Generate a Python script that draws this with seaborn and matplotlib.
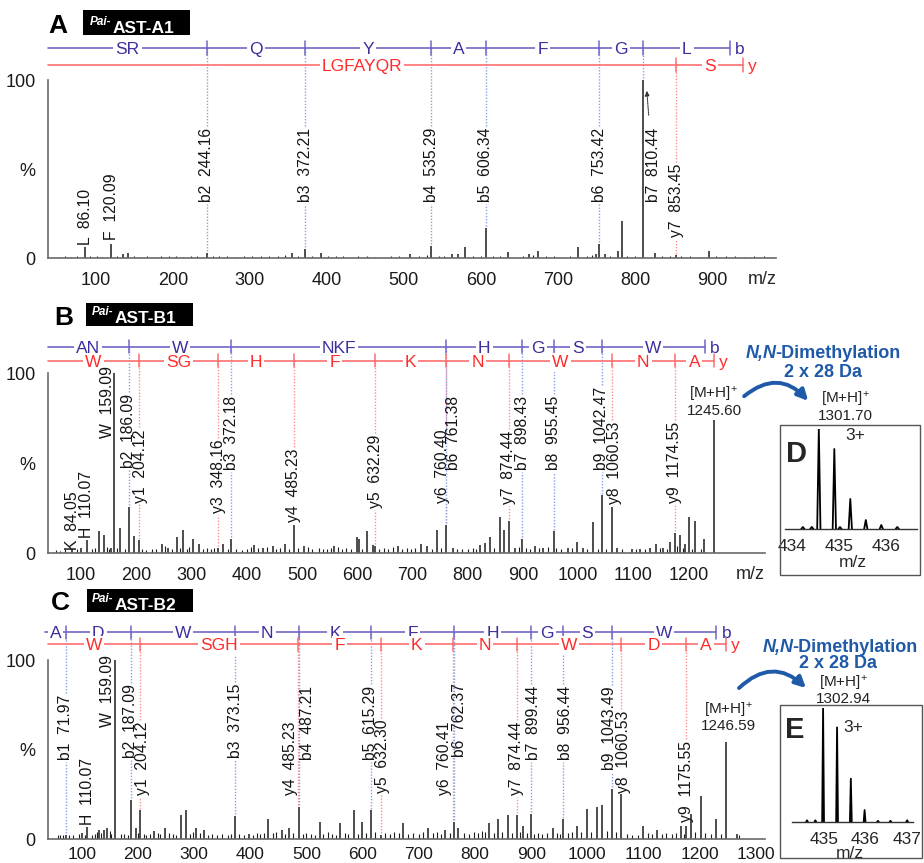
import matplotlib
matplotlib.use("Agg")
import matplotlib.pyplot as plt
import seaborn as sns
import pandas as pd
from matplotlib.patches import Rectangle, FancyArrowPatch
from matplotlib.ticker import MultipleLocator

# ======================= DATA =======================
# ---- Panel A  (Pai-AST-A1) ----
A_peaks = [(86.10, 6), (120.09, 8), (136, 2), (142, 3), (244.16, 3), (355, 3), (372.21, 5), (392, 3),
           (508, 2), (535.29, 7), (562, 2), (570, 2), (579, 6), (606.34, 17), (635, 3.5), (663, 2),
           (674, 4), (726, 6), (749, 2), (753.42, 8), (761, 2), (778, 4), (783, 21), (810.44, 100),
           (826, 3), (853.45, 1.5), (896, 4)]
A_noise = [(52, .8), (60, 1.0), (68, .7), (75, 1.2), (93, .9), (101, 1.3), (108, .8), (128, 1.1), (150, 1.0),
           (158, .7), (167, 1.2), (176, .8), (185, 1.0), (195, .9), (204, 1.1), (213, .7), (224, 1.0),
           (232, 1.4), (252, 1.2), (260, 1.0), (270, 1.3), (281, .8), (292, 1.1), (303, 1.2), (314, .9),
           (325, 1.3), (336, 1.0), (346, 1.6), (362, 1.2), (381, 1.1), (401, 1.4), (412, 1.0), (421, 1.2),
           (440, .9), (452, 1.1), (462, .8), (483, 1.2), (494, 1.0), (520, 1.3), (530, 1.5), (545, 1.1),
           (552, 1.3), (590, 1.0), (600, 1.2), (615, 1.1), (625, 1.4), (655, 1.2), (668, 1.5), (685, 1.0),
           (695, 1.2), (716, 1.1), (738, 1.3), (744, 1.6), (768, 1.4), (790, 1.0), (800, 1.2), (835, 1.0),
           (845, 1.2), (860, .9), (872, 1.1), (883, .8), (905, 1.0), (918, .9), (930, 1.1), (942, .8),
           (955, 1.0), (968, .9), (978, .8)]
A_ann_mz = [86.10, 120.09, 244.16, 372.21, 535.29, 606.34, 753.42, 810.44, 853.45]
A_ann_ion = ['L', 'F', 'b2', 'b3', 'b4', 'b5', 'b6', 'b7', 'y7']
A_b_frag = [244.16, 372.21, 535.29, 606.34, 753.42, 810.44]
A_b_end = 923.5
A_b_res = ['SR', 'Q', 'Y', 'A', 'F', 'G', 'L']
A_y_frag = [853.45]
A_y_end = 940.5
A_y_res = ['LGFAYQR', 'S']

# ---- Panel B  (Pai-AST-B1) ----
B_peaks = [(84.05, 2), (99, 3), (110.07, 7), (132, 12), (141, 10), (154, 3), (159.09, 100), (171, 14),
           (186.09, 25.5), (195, 9.5), (204.12, 7), (246, 5), (257, 3), (273, 9), (284, 13), (302, 8),
           (313, 5), (348.16, 3), (357, 5), (372.18, 8), (413, 4.5), (429, 3), (447, 4), (469, 5),
           (485.23, 15.5), (503, 4), (558, 4), (599, 9), (603, 8), (617, 12), (628, 4.5), (632.29, 4),
           (673, 4), (715, 5), (726, 4), (744, 13), (760.40, 15.5), (773, 3), (822, 4.5), (831, 5.5),
           (840, 9), (858, 20), (866, 13), (874.44, 18), (885, 3), (898.43, 8), (921, 4), (936, 3),
           (955.45, 12), (981, 3), (998, 6), (1009, 3), (1027, 17), (1042.47, 32), (1060.53, 25.5),
           (1070, 3), (1097, 2.5), (1112, 2), (1130, 3), (1141, 5), (1153, 3), (1166, 6), (1174.55, 11),
           (1184, 10), (1193, 5), (1200, 20), (1211, 18), (1228, 8), (1245.60, 74)]
B_noise = [(55, 1.5), (62, 1.0), (70, 2.0), (92, 2.5), (120, 2.0), (125, 3.0), (146, 3.5), (150, 2.5),
           (165, 3.0), (180, 2.0), (210, 2.0), (218, 1.5), (228, 2.0), (236, 2.5), (252, 4.0), (265, 2.5),
           (279, 3.0), (292, 2.0), (296, 3.5), (320, 2.5), (328, 3.0), (335, 2.0), (340, 3.0), (365, 2.0),
           (380, 2.5), (392, 1.5), (400, 2.5), (408, 3.5), (420, 3.0), (436, 3.5), (452, 2.5), (460, 3.0),
           (476, 2.0), (492, 3.0), (510, 3.5), (518, 2.5), (530, 3.0), (538, 2.0), (545, 2.5), (552, 3.0),
           (565, 3.5), (572, 2.5), (580, 3.0), (588, 2.5), (608, 2.0), (640, 2.5), (648, 3.0), (656, 2.0),
           (665, 3.5), (680, 2.5), (690, 3.0), (698, 2.5), (705, 3.0), (735, 2.5), (752, 3.0), (780, 2.5),
           (790, 2.0), (800, 2.5), (810, 3.0), (815, 2.5), (848, 3.0), (892, 3.5), (905, 3.0), (912, 2.5),
           (928, 3.0), (945, 3.5), (960, 3.0), (968, 2.5), (988, 3.0), (1015, 2.5), (1035, 2.0),
           (1050, 2.5), (1080, 2.0), (1105, 2.0), (1120, 2.5), (1148, 3.0), (1160, 2.5), (1178, 4.0),
           (1190, 3.0), (1205, 2.5), (1222, 2.0)]
B_ann_mz = [84.05, 110.07, 159.09, 186.09, 204.12, 348.16, 372.18, 485.23, 632.29, 760.40, 761.38,
            874.44, 898.43, 955.45, 1042.47, 1060.53, 1174.55]
B_ann_ion = ['K', 'H', 'W', 'b2', 'y1', 'y3', 'b3', 'y4', 'y5', 'y6', 'b6', 'y7', 'b7', 'b8', 'b9', 'y8', 'y9']
B_b_frag = [186.09, 372.18, 761.38, 898.43, 955.45, 1042.47]
B_b_end = 1228.55
B_b_res = ['AN', 'W', 'NKF', 'H', 'G', 'S', 'W']
B_y_frag = [204.12, 348.16, 485.23, 632.29, 760.40, 874.44, 1060.53, 1174.55]
B_y_end = 1245.60
B_y_res = ['W', 'SG', 'H', 'F', 'K', 'N', 'W', 'N', 'A']
B_precursor = 1245.60
B_dimethyl = 1301.70

# ---- Panel C  (Pai-AST-B2) ----
C_peaks = [(71.97, 2.5), (100, 3.5), (110.07, 6.7), (131, 5), (140, 5), (145, 6), (159.09, 100),
           (187.09, 22), (196, 6), (204.12, 16), (229, 4.5), (248, 6), (276, 13.5), (285, 16), (303, 6),
           (318, 5), (373.15, 13), (398, 3), (431, 11), (456, 5), (469, 6), (487.21, 18), (524, 9.5),
           (560, 9), (584, 16), (599, 9.5), (615.29, 16), (632.30, 2.5), (672, 9), (717, 6), (746, 5),
           (762.37, 9.5), (770, 6), (825, 9), (841, 11), (858, 13.5), (874.44, 13.5), (886, 7),
           (899.44, 14), (939, 6), (956.44, 11), (981, 7), (999, 16.5), (1017, 18), (1026, 19),
           (1043.49, 28), (1060.53, 25), (1099, 7), (1124, 5), (1167, 7.5), (1175.55, 7.5), (1184, 14),
           (1202, 24), (1229, 11), (1246.59, 54), (1266, 3)]
C_noise = [(58, 2), (62, 2.5), (66, 2), (78, 2.5), (85, 2), (95, 3), (106, 2.5), (118, 2.5), (124, 3),
           (128, 4), (135, 3.5), (150, 4.5), (152, 3), (170, 3), (176, 3), (182, 2.5), (200, 3.5),
           (210, 3), (215, 2.5), (222, 3), (235, 3.5), (240, 3), (255, 3.5), (262, 3), (268, 2.5),
           (292, 3), (298, 4), (310, 3.5), (325, 2.5), (332, 3), (340, 2.5), (350, 3), (360, 2.5),
           (366, 3), (380, 3), (388, 2.5), (405, 2.5), (412, 3.5), (418, 3), (425, 3.5), (440, 3.5),
           (446, 4), (462, 3), (476, 3.5), (494, 3), (500, 3.5), (508, 3), (516, 2.5), (530, 3),
           (538, 4), (545, 3), (552, 2.5), (568, 3.5), (574, 3), (592, 3), (606, 3.5), (622, 4),
           (640, 3.5), (648, 3), (656, 4), (664, 3.5), (680, 3), (690, 3.5), (700, 3), (708, 4),
           (725, 3.5), (732, 4), (740, 3), (755, 3.5), (780, 3.5), (790, 3), (798, 4), (806, 3.5),
           (812, 4.5), (818, 4), (834, 3.5), (848, 4), (866, 3.5), (880, 4), (892, 3.5), (905, 3),
           (912, 3.5), (920, 3), (928, 3.5), (946, 3.5), (952, 3), (966, 3.5), (972, 4), (988, 4),
           (1006, 4), (1035, 4.5), (1050, 4), (1070, 3), (1080, 2.5), (1090, 2), (1108, 3.5), (1115, 3),
           (1132, 3), (1140, 3.5), (1150, 3), (1158, 3.5), (1172, 3), (1192, 4), (1210, 3.5), (1220, 3),
           (1238, 3), (1270, 2.5)]
C_ann_mz = [71.97, 110.07, 159.09, 187.09, 204.12, 373.15, 485.23, 487.21, 615.29, 632.30, 760.41,
            762.37, 874.44, 899.44, 956.44, 1043.49, 1060.53, 1175.55]
C_ann_ion = ['b1', 'H', 'W', 'b2', 'y1', 'b3', 'y4', 'b4', 'b5', 'y5', 'y6', 'b6', 'y7', 'b7', 'b8',
             'b9', 'y8', 'y9']
C_b_frag = [71.97, 187.09, 373.15, 487.21, 615.29, 762.37, 899.44, 956.44, 1043.49]
C_b_end = 1229.57
C_b_res = ['A', 'D', 'W', 'N', 'K', 'F', 'H', 'G', 'S', 'W']
C_y_frag = [204.12, 485.23, 632.30, 760.41, 874.44, 1060.53, 1175.55]
C_y_end = 1246.59
C_y_res = ['W', 'SGH', 'F', 'K', 'N', 'W', 'D', 'A']
C_precursor = 1246.59
C_dimethyl = 1302.94

# ---- Insets: 3+ isotope clusters ----
D_iso_mz = [434.23, 434.42, 434.57, 434.90, 435.02, 435.24, 435.57, 435.90, 436.24]
D_iso_int = [2, 2, 100, 80, 2, 30, 9, 4, 2]
D_ticks = [434, 435, 436]
E_iso_mz = [434.60, 434.80, 434.985, 435.32, 435.65, 435.98, 436.30, 436.60, 437.00]
E_iso_int = [1.5, 1.5, 100, 83, 38, 10.5, 1, 1, 1.5]
E_ticks = [435, 436, 437]

# ======================= LAYOUT / STYLE =======================
sns.set_theme(style="white")
plt.rcParams['font.family'] = ['Liberation Sans', 'DejaVu Sans']
plt.rcParams['mathtext.default'] = 'regular'

W, H = 924, 863
fig = plt.figure(figsize=(W / 100, H / 100), dpi=100)
fig.patch.set_facecolor('white')

BLUE_T, BLUE_L, BLUE_D = '#3a2f9c', '#6f67c6', '#86a2e2'
RED_T, RED_L, RED_D = '#ff2b2b', '#ff6e6e', '#ff8f8f'
PEAK, AXC, NAVY = '#1c1c1c', '#6a6a6a', '#1f5aa8'


def fx(x):
    return x / W


def fy(y):
    return 1 - y / H


def make_axes(left, right, top, bottom):
    return fig.add_axes([fx(left), fy(bottom), (right - left) / W, (bottom - top) / H])


def style_axis(ax, xlim, xticks, minor, xpad, xsize):
    ax.set_xlim(*xlim)
    ax.set_ylim(0, 100)
    ax.set_xticks(xticks)
    ax.xaxis.set_minor_locator(MultipleLocator(minor))
    ax.set_yticks([0, 50, 100])
    ax.set_yticklabels(['0', '%', '100'])
    ax.yaxis.set_minor_locator(MultipleLocator(10))
    for s in ['top', 'right']:
        ax.spines[s].set_visible(False)
    for s in ['left', 'bottom']:
        ax.spines[s].set_color(AXC)
        ax.spines[s].set_linewidth(1.2)
    ax.tick_params(which='major', direction='out', length=5, width=1, color=AXC,
                   labelsize=13, labelcolor='#1a1a1a', pad=4)
    ax.tick_params(axis='x', which='major', pad=xpad, labelsize=xsize)
    ax.tick_params(which='minor', direction='out', length=3, width=0.8, color=AXC)
    ax.patch.set_alpha(0)
    ax.grid(False)


def draw_ladder(ax, start, frags, end, residues, lev, tick_h, ct, cl, tag, tag_dx):
    pos = [start] + list(frags) + [end]
    ax.plot([start, end], [lev, lev], color=cl, lw=1.2, clip_on=False, zorder=3)
    for p in list(frags) + [end]:
        ax.plot([p, p], [lev - tick_h, lev + tick_h], color=cl, lw=1.1, clip_on=False, zorder=3)
    for a, b, r in zip(pos[:-1], pos[1:], residues):
        ax.text((a + b) / 2, lev, r, color=ct, ha='center', va='center_baseline', fontsize=12.5,
                bbox=dict(boxstyle='square,pad=0.12', fc='white', ec='none'), zorder=4, clip_on=False)
    ax.text(end + tag_dx, lev, tag, color=ct, ha='left', va='center_baseline', fontsize=12.5,
            zorder=4, clip_on=False)


def draw_panel(cfg, peaks, noise, ann_mz, ann_ion, lab_bottom, lab_dx,
               b_frag, b_end, b_res, y_frag, y_end, y_res):
    ax = make_axes(*cfg['rect'])
    style_axis(ax, cfg['xlim'], cfg['xticks'], cfg['minor'], cfg['xpad'], cfg['xsize'])
    ppp = (cfg['rect'][3] - cfg['rect'][2]) / 100.0   # pixels per %
    xpp = (cfg['rect'][1] - cfg['rect'][0]) / (cfg['xlim'][1] - cfg['xlim'][0])  # px per m/z
    nz_mz, nz_int = zip(*noise)
    ax.vlines(nz_mz, 0, nz_int, color=PEAK, lw=0.8, zorder=2)
    pk_mz, pk_int = zip(*peaks)
    ax.vlines(pk_mz, 0, pk_int, color=PEAK, lw=1.1, zorder=2)

    b_lev = (cfg['rect'][3] - cfg['b_px']) / ppp
    y_lev = (cfg['rect'][3] - cfg['y_px']) / ppp
    tick_h = 6.5 / ppp
    start = cfg['start']
    draw_ladder(ax, start, b_frag, b_end, b_res, b_lev, tick_h, BLUE_T, BLUE_L, 'b', 5 / xpp)
    draw_ladder(ax, cfg['xlim'][0], y_frag, y_end, y_res, y_lev, tick_h, RED_T, RED_L, 'y', 5 / xpp)

    texts = []
    for mz, ion, bot, dx in zip(ann_mz, ann_ion, lab_bottom, lab_dx):
        t = ax.text(mz + dx / xpp, bot, f"{ion}  {mz:.2f}", rotation=90, ha='center', va='bottom',
                    fontsize=11.3, color='#141414', zorder=5, clip_on=False)
        texts.append((t, mz, ion, dx))
    return ax, texts, b_lev, y_lev, peaks


def connect(ax, texts, b_lev, y_lev, peaks, renderer):
    inv = ax.transData.inverted()
    g = 1.0
    for t, mz, ion, dx in texts:
        kind = ion[0] if (ion[0] in 'by' and ion[1:].isdigit()) else None
        if kind is None:
            continue
        lev = b_lev if kind == 'b' else y_lev
        col = BLUE_D if kind == 'b' else RED_D
        near = [p for p in peaks if abs(p[0] - mz) < 2.5]
        top_pk = max(p[1] for p in near) if near else 1.5
        bb = t.get_window_extent(renderer)
        (_, yb), (_, yt) = inv.transform([(bb.x0, bb.y0), (bb.x1, bb.y1)])
        if abs(dx) < 4:
            segs = [(yt + g, lev), (top_pk + g, yb - g)]
        else:
            segs = [(top_pk + g, lev)]
        for y0, y1 in segs:
            if y1 > y0:
                ax.plot([mz, mz], [y0, y1], color=col, lw=1.0, ls=(0, (1, 1.2)), zorder=1, clip_on=False)


def title_box(letter, x_letter, base_letter, box, pai_xy, ast_xy, name):
    fig.text(fx(x_letter), fy(base_letter), letter, fontsize=19, fontweight='bold', ha='center',
             va='baseline', color='black')
    l, t, r, b = box
    fig.patches.append(Rectangle((fx(l), fy(b)), (r - l) / W, (b - t) / H, transform=fig.transFigure,
                                 fc='black', ec='none'))
    fig.text(fx(pai_xy[0]), fy(pai_xy[1]), 'Pai-', fontsize=8.5, fontweight='bold', fontstyle='italic',
             color='white', ha='left', va='baseline')
    fig.text(fx(ast_xy[0]), fy(ast_xy[1]), name, fontsize=12.5, fontweight='bold', color='white',
             ha='left', va='baseline')


def dimethyl_block(host_ax, left_x, base1, center2, base2, arrow_a, arrow_b, mh_x, mh_y1, mh_y2, value):
    t1 = fig.text(fx(left_x), fy(base1), 'N,N', fontsize=13, fontweight='bold', fontstyle='italic',
                  color=NAVY, ha='left', va='baseline')
    host_ax.annotate('-Dimethylation', xy=(1, 0), xycoords=t1, xytext=(-1.5, 0),
                     textcoords='offset points', fontsize=13, fontweight='bold', color=NAVY,
                     ha='left', va='bottom', annotation_clip=False)
    fig.text(fx(center2), fy(base2), '2 x 28 Da', fontsize=13, fontweight='bold', color=NAVY,
             ha='center', va='baseline')
    arr = FancyArrowPatch((fx(arrow_a[0]), fy(arrow_a[1])), (fx(arrow_b[0]), fy(arrow_b[1])),
                          transform=fig.transFigure, connectionstyle='arc3,rad=-0.5',
                          arrowstyle='-|>', mutation_scale=16, color=NAVY, lw=2.8)
    fig.patches.append(arr)
    fig.text(fx(mh_x), fy(mh_y1), '[M+H]$^{+}$', fontsize=11, color='#222222', ha='center',
             va='center_baseline')
    fig.text(fx(mh_x), fy(mh_y2), f"{value:.2f}", fontsize=11, color='#222222', ha='center',
             va='center_baseline')


def inset(frame, rect, xlim, ticks, iso_mz, iso_int, hw, letter_xy, charge_xy, mz_xy, letter):
    l, t, r, b = frame
    fig.patches.append(Rectangle((fx(l), fy(b)), (r - l) / W, (b - t) / H, transform=fig.transFigure,
                                 fc='none', ec='#555555', lw=1.0))
    ax = make_axes(*rect)
    rows = []
    for i, (c, h) in enumerate(zip(iso_mz, iso_int)):
        for xx, yy in ((c - hw, 0), (c, h), (c + hw, 0)):
            rows.append({'mz': xx, 'inten': yy, 'pk': i})
    df = pd.DataFrame(rows)
    sns.lineplot(data=df, x='mz', y='inten', units='pk', estimator=None, color='black', lw=1.3, ax=ax)
    ax.set_xlim(*xlim)
    ax.set_ylim(0, 100)
    ax.set_xticks(ticks)
    ax.set_yticks([])
    ax.set_xlabel('')
    ax.set_ylabel('')
    for s in ['top', 'right', 'left']:
        ax.spines[s].set_visible(False)
    ax.spines['bottom'].set_color('#333333')
    ax.spines['bottom'].set_linewidth(1.0)
    ax.tick_params(axis='x', direction='out', length=5, width=1, color='#333333', labelsize=12.5, pad=2)
    ax.patch.set_alpha(0)
    fig.text(fx(letter_xy[0]), fy(letter_xy[1]), letter, fontsize=21, fontweight='bold', ha='center',
             va='baseline')
    fig.text(fx(charge_xy[0]), fy(charge_xy[1]), '3+', fontsize=12.5, ha='center', va='baseline')
    fig.text(fx(mz_xy[0]), fy(mz_xy[1]), 'm/z', fontsize=12.5, ha='center', va='center_baseline')


# ----- panel configurations (pixel layout) -----
cfgA = dict(rect=(48, 776, 80, 258), xlim=(38, 983), xticks=list(range(100, 1000, 100)), minor=10,
            b_px=48, y_px=65, start=38, xpad=5, xsize=13)
cfgB = dict(rect=(48, 765, 373, 553), xlim=(40, 1338), xticks=list(range(100, 1300, 100)), minor=20,
            b_px=347, y_px=361, start=40, xpad=5, xsize=13)
cfgC = dict(rect=(48, 765, 660, 839), xlim=(40, 1316), xticks=list(range(100, 1400, 100)), minor=20,
            b_px=632, y_px=644, start=35, xpad=0.5, xsize=12.5)

A_lab_bottom = [7.3, 10, 31.5, 31.5, 31.5, 31.5, 31.5, 31.5, 11.8]
A_lab_dx = [0, 0, 0, 0, 0, 0, 0, 10, 0]
B_lab_bottom = [1.7, 8.3, 64, 47, 28, 22, 46, 17, 25, 28, 46, 27, 46, 46, 46, 27, 28]
B_lab_dx = [0, 0, -6, 0, 2, 0, 0, 0, 0, -3, 7, 0, 0, 0, 0, 3, 0]
C_lab_bottom = [44, 7.8, 62.6, 45, 24.6, 45, 24.6, 44, 44, 25.7, 24.6, 46, 24.6, 44, 44, 38.5, 25.7, 9.5]
C_lab_dx = [0, 0, -7, 0, 2.5, 0, -8, 8, -1, 2, -8, 6, 0, 3, 3, -2, 2, 0]

axA, txA, bA, yA, pA = draw_panel(cfgA, A_peaks, A_noise, A_ann_mz, A_ann_ion, A_lab_bottom, A_lab_dx,
                                  A_b_frag, A_b_end, A_b_res, A_y_frag, A_y_end, A_y_res)
axB, txB, bB, yB, pB = draw_panel(cfgB, B_peaks, B_noise, B_ann_mz, B_ann_ion, B_lab_bottom, B_lab_dx,
                                  B_b_frag, B_b_end, B_b_res, B_y_frag, B_y_end, B_y_res)
axC, txC, bC, yC, pC = draw_panel(cfgC, C_peaks, C_noise, C_ann_mz, C_ann_ion, C_lab_bottom, C_lab_dx,
                                  C_b_frag, C_b_end, C_b_res, C_y_frag, C_y_end, C_y_res)

# small dotted arrow near b7 in panel A
axA.annotate('', xy=(815, 95.5), xytext=(818, 78.7),
             arrowprops=dict(arrowstyle='-|>', ls=(0, (1, 1)), color='#333333', lw=0.8, mutation_scale=7))

# precursor labels inside panels B and C
axB.text(B_precursor, 89.4, '[M+H]$^{+}$', fontsize=11, color='#222222', ha='center', va='center_baseline')
axB.text(B_precursor, 80, f"{B_precursor:.2f}", fontsize=11, color='#222222', ha='center',
         va='center_baseline')
axC.text(C_precursor + 5, 73.2, '[M+H]$^{+}$', fontsize=11, color='#222222', ha='center',
         va='center_baseline')
axC.text(C_precursor + 5, 64.2, f"{C_precursor:.2f}", fontsize=11, color='#222222', ha='center',
         va='center_baseline')

# m/z axis labels
fig.text(fx(762), fy(277), 'm/z', fontsize=13, ha='center', va='center_baseline')
fig.text(fx(750), fy(572), 'm/z', fontsize=13, ha='center', va='center_baseline')

# titles
title_box('A', 57.5, 33, (83, 10, 190, 35), (90, 25), (113, 33), 'AST-A1')
title_box('B', 63.5, 325, (86, 303, 193, 326), (92, 315), (115, 323), 'AST-B1')
title_box('C', 60, 610, (87, 589, 193, 612), (92, 602), (115, 610), 'AST-B2')

# dimethylation annotations
dimethyl_block(axB, 746, 358, 823, 377, (742, 398), (810, 403), 845, 397, 414, B_dimethyl)
dimethyl_block(axC, 763, 652, 838, 668, (737, 690), (808, 690), 843, 681, 697, C_dimethyl)

# insets
inset((780, 425, 920, 575), (785, 917, 429, 529), (433.85, 436.66), D_ticks, D_iso_mz, D_iso_int, 0.035,
      (797, 462), (855, 440), (853, 561), 'D')
inset((780, 705, 922, 858), (792, 913, 708, 822), (434.24, 437.14), E_ticks, E_iso_mz, E_iso_int, 0.022,
      (795, 738), (853, 732), (850, 852), 'E')

fig.canvas.draw()
rend = fig.canvas.get_renderer()
connect(axA, txA, bA, yA, pA, rend)
connect(axB, txB, bB, yB, pB, rend)
connect(axC, txC, bC, yC, pC, rend)

fig.savefig('out.png', dpi=100, facecolor='white')
